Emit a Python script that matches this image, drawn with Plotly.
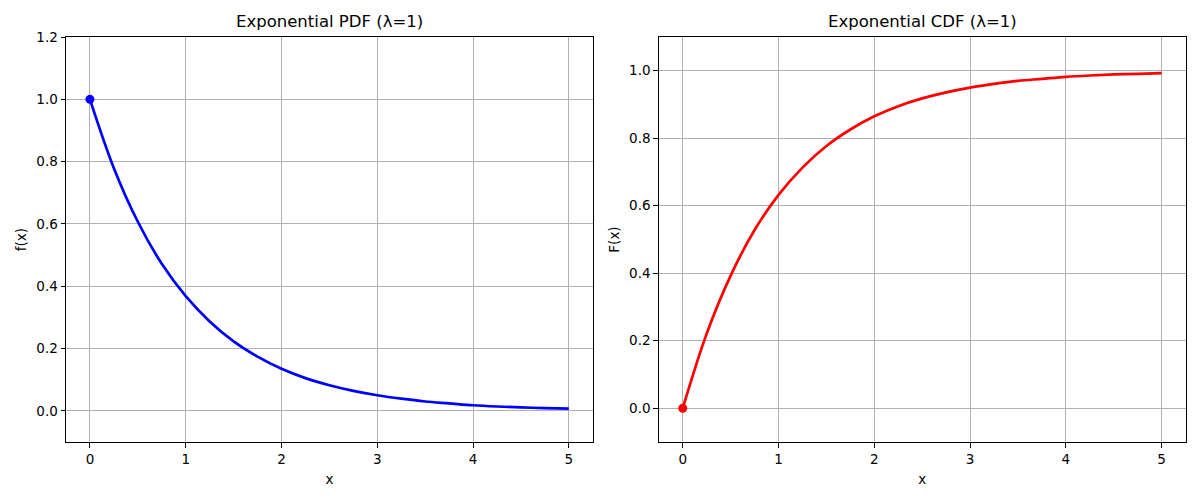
import plotly.graph_objects as go

x_vals = [0, 0.25, 0.5, 0.75, 1, 1.25, 1.5, 1.75, 2, 2.25, 2.5, 2.75, 3, 3.25, 3.5, 3.75, 4, 4.25, 4.5, 4.75, 5]
pdf_vals = [1.0, 0.779, 0.607, 0.472, 0.368, 0.287, 0.223, 0.174, 0.135, 0.105, 0.082, 0.064, 0.050, 0.039, 0.030, 0.024, 0.018, 0.014, 0.011, 0.009, 0.007]
cdf_vals = [0.0, 0.221, 0.393, 0.528, 0.632, 0.713, 0.777, 0.826, 0.865, 0.895, 0.918, 0.936, 0.950, 0.961, 0.970, 0.976, 0.982, 0.986, 0.989, 0.991, 0.993]
pdf_point = (0, 1.0)
cdf_point = (0, 0.0)
titles = ["Exponential PDF (λ=1)", "Exponential CDF (λ=1)"]

FONT = "DejaVu Sans"
fig = go.Figure()
fig.add_trace(go.Scatter(x=x_vals, y=pdf_vals, mode="lines", line=dict(color="blue", width=2.7, shape="spline"), xaxis="x", yaxis="y", showlegend=False))
fig.add_trace(go.Scatter(x=[pdf_point[0]], y=[pdf_point[1]], mode="markers", marker=dict(color="blue", size=9), xaxis="x", yaxis="y", showlegend=False, cliponaxis=False))
fig.add_trace(go.Scatter(x=x_vals, y=cdf_vals, mode="lines", line=dict(color="red", width=2.7, shape="spline"), xaxis="x2", yaxis="y2", showlegend=False))
fig.add_trace(go.Scatter(x=[cdf_point[0]], y=[cdf_point[1]], mode="markers", marker=dict(color="red", size=9), xaxis="x2", yaxis="y2", showlegend=False, cliponaxis=False))

common = dict(showline=True, linecolor="black", linewidth=1, mirror=True, ticks="outside", ticklen=4.5,
              tickcolor="black", showgrid=True, gridcolor="#b0b0b0", gridwidth=0.8, zeroline=False, automargin=False,
              tickfont=dict(family=FONT, size=13.5, color="black"))
xd = dict(range=[-0.25, 5.25], tickvals=[0, 1, 2, 3, 4, 5], title=dict(text="x", font=dict(family=FONT, size=13.5, color="black"), standoff=8))
fig.update_layout(
    width=1200, height=500, margin=dict(l=0, r=0, t=0, b=0, autoexpand=False),
    plot_bgcolor="white", paper_bgcolor="white",
    xaxis=dict(domain=[0.055, 0.494], anchor="y", **xd, **common),
    yaxis=dict(domain=[0.116, 0.926], anchor="x", range=[-0.1, 1.2], tickvals=[0, 0.2, 0.4, 0.6, 0.8, 1.0, 1.2], tickformat=".1f",
               title=dict(text="f(x)", font=dict(family=FONT, size=13.5, color="black"), standoff=6), **common),
    xaxis2=dict(domain=[0.549, 0.988], anchor="y2", **xd, **common),
    yaxis2=dict(domain=[0.116, 0.926], anchor="x2", range=[-0.1, 1.1], tickvals=[0, 0.2, 0.4, 0.6, 0.8, 1.0], tickformat=".1f",
                title=dict(text="F(x)", font=dict(family=FONT, size=13.5, color="black"), standoff=6), **common),
    annotations=[
        dict(text=titles[0], x=(0.055 + 0.494) / 2, y=0.926, xref="paper", yref="paper", xanchor="center", yanchor="bottom", yshift=4,
             showarrow=False, font=dict(family=FONT, size=16.5, color="black")),
        dict(text=titles[1], x=(0.549 + 0.988) / 2, y=0.926, xref="paper", yref="paper", xanchor="center", yanchor="bottom", yshift=4,
             showarrow=False, font=dict(family=FONT, size=16.5, color="black")),
    ],
)
fig.write_html("out.html")
